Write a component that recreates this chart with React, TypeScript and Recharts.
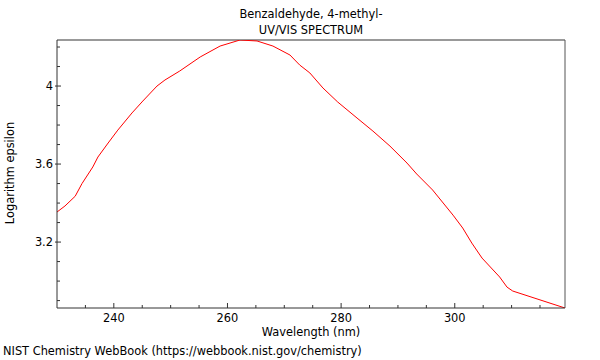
import { LineChart, Line, XAxis, YAxis, ReferenceLine } from 'recharts'

// UV/VIS spectrum of 4-methylbenzaldehyde
const wavelengths = [
  230.0, 231.4, 233.2, 234.4, 236.3, 237.2, 239.0, 240.7, 243.2, 245.1,
  247.6, 249.0, 251.6, 255.2, 258.7, 262.2, 265.2, 268.0, 271.0, 272.7,
  274.5, 276.8, 279.4, 282.8, 285.6, 288.6, 291.6, 293.3, 296.1, 299.7,
  301.4, 303.0, 304.8, 307.9, 309.2, 310.2, 319.4,
]
const logEpsilon = [
  3.354, 3.385, 3.435, 3.5, 3.585, 3.636, 3.708, 3.774, 3.862, 3.923,
  4.0, 4.031, 4.077, 4.149, 4.205, 4.236, 4.231, 4.205, 4.159, 4.108,
  4.067, 3.99, 3.918, 3.836, 3.769, 3.692, 3.605, 3.549, 3.467, 3.338,
  3.272, 3.195, 3.118, 3.021, 2.969, 2.949, 2.862,
]

const xTicks = [235, 240, 245, 250, 255, 260, 265, 270, 275, 280, 285, 290, 295, 300, 305, 310, 315]
const xMajor = [240, 260, 280, 300]
const yTicks = [2.9, 3.0, 3.1, 3.2, 3.3, 3.4, 3.5, 3.6, 3.7, 3.8, 3.9, 4.0, 4.1, 4.2]
const yMajor = [3.2, 3.6, 4]

const X_MIN = 230
const X_MAX = 319.4
const Y_MIN = 2.862
const Y_MAX = 4.236

const FONT = 'DejaVu Sans, sans-serif'
const FS = 11.4

const data = wavelengths.map((nm, i) => ({ nm, v: logEpsilon[i] }))

function XTick(props: any) {
  const { x, y, payload } = props
  const major = xMajor.includes(payload.value)
  return (
    <g>
      <line x1={x} x2={x} y1={y} y2={y - (major ? 5 : 3)} stroke="#333" />
      {major && (
        <text x={x} y={y + 14} textAnchor="middle" fontSize={FS} fontFamily={FONT} fill="#000">
          {payload.value}
        </text>
      )}
    </g>
  )
}

function YTick(props: any) {
  const { x, y, payload } = props
  const major = yMajor.some((m) => Math.abs(m - payload.value) < 1e-6)
  return (
    <g>
      <line x1={major ? x - 2 : x} x2={x + (major ? 4 : 3)} y1={y} y2={y} stroke="#333" />
      {major && (
        <text x={x - 4} y={y + 4} textAnchor="end" fontSize={FS} fontFamily={FONT} fill="#000">
          {Math.round(payload.value * 10) / 10}
        </text>
      )}
    </g>
  )
}

export default function App() {
  return (
    <div style={{ position: 'absolute', left: 0, top: 0, width: 600, height: 360, background: '#fff' }}>
      <LineChart
        width={600}
        height={360}
        data={data}
        margin={{ top: 40, right: 35, bottom: 22, left: 7 }}
      >
        <XAxis
          dataKey="nm"
          type="number"
          domain={[X_MIN, X_MAX]}
          allowDataOverflow
          ticks={xTicks}
          interval={0}
          tick={<XTick />}
          tickLine={false}
          tickSize={0}
          tickMargin={0}
          height={30}
          axisLine={{ stroke: '#333' }}
        />
        <YAxis
          type="number"
          domain={[Y_MIN, Y_MAX]}
          allowDataOverflow
          ticks={yTicks}
          interval={0}
          tick={<YTick />}
          tickLine={false}
          tickSize={0}
          tickMargin={0}
          width={50}
          axisLine={{ stroke: '#333' }}
        />
        <ReferenceLine y={Y_MAX} stroke="#999" strokeWidth={2} />
        <ReferenceLine x={X_MAX} stroke="#555" />
        <Line
          type="linear"
          dataKey="v"
          stroke="#ff0000"
          strokeWidth={1}
          dot={false}
          isAnimationActive={false}
        />
      </LineChart>
      <svg
        width={600}
        height={360}
        style={{ position: 'absolute', left: 0, top: 0, pointerEvents: 'none' }}
        fontFamily={FONT}
        fontSize={FS}
      >
        <text x={311} y={18} textAnchor="middle">Benzaldehyde, 4-methyl-</text>
        <text x={311} y={34} textAnchor="middle">UV/VIS SPECTRUM</text>
        <text x={311} y={336} textAnchor="middle">Wavelength (nm)</text>
        <text x={14} y={173} textAnchor="middle" transform="rotate(-90 14 173)">Logarithm epsilon</text>
        <text x={3} y={355}>NIST Chemistry WebBook (https://webbook.nist.gov/chemistry)</text>
      </svg>
    </div>
  )
}
